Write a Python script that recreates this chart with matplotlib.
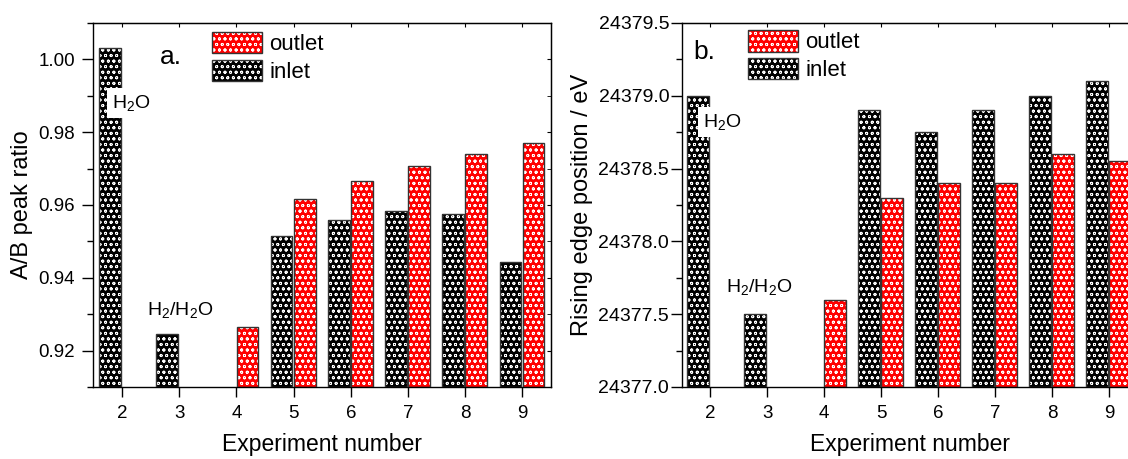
import matplotlib
matplotlib.use("Agg")  # headless
import matplotlib.pyplot as plt
import numpy as np
from matplotlib.patches import Patch
from matplotlib.ticker import MultipleLocator, FormatStrFormatter

plt.rcParams["font.family"] = ["Liberation Sans", "DejaVu Sans"]
plt.rcParams["mathtext.fontset"] = "custom"
plt.rcParams["mathtext.rm"] = "Liberation Sans"
plt.rcParams["mathtext.it"] = "Liberation Sans:italic"
plt.rcParams["hatch.linewidth"] = 0.6

# Experiment numbers and values (None = no bar)
experiments = [2, 3, 4, 5, 6, 7, 8, 9]
ratio_inlet = [1.0032, 0.9246, None, 0.9514, 0.9559, 0.9584, 0.9575, 0.9444]
ratio_outlet = [None, None, 0.9266, 0.9616, 0.9667, 0.9706, 0.9739, 0.9771]
edge_inlet = [24379.0, 24377.5, None, 24378.9, 24378.75, 24378.9, 24379.0, 24379.1]
edge_outlet = [None, None, 24377.6, 24378.3, 24378.4, 24378.4, 24378.6, 24378.55]

INLET_FACE, INLET_HATCH = "black", "ooo"
OUTLET_FACE, OUTLET_HATCH = "#ff0000", "ooo"
BAR_W = 0.38


def draw_bars(ax, vals, offset, face, hatch, base):
    xs = np.array([e for e, v in zip(experiments, vals) if v is not None], float)
    hs = [v - base for v in vals if v is not None]
    ax.bar(xs + offset, hs, width=BAR_W, bottom=base, align="edge",
           color=face, edgecolor="white", hatch=hatch, linewidth=0, zorder=2)
    ax.bar(xs + offset, hs, width=BAR_W, bottom=base, align="edge",
           fill=False, edgecolor="#333333", linewidth=1.0, zorder=3)


def style_axes(ax, ylim, major, minor, fmt, ylabel, ypad):
    ax.set_xlim(1.5, 9.5)
    ax.set_ylim(*ylim)
    ax.set_xticks(experiments)
    ax.yaxis.set_major_locator(MultipleLocator(major))
    ax.yaxis.set_minor_locator(MultipleLocator(minor))
    ax.yaxis.set_major_formatter(FormatStrFormatter(fmt))
    ax.tick_params(axis="x", direction="out", length=7, width=1, pad=6, labelsize=13.5)
    ax.tick_params(axis="y", which="major", direction="out", length=8, width=1,
                   pad=ypad, labelsize=13.5)
    ax.tick_params(axis="y", which="minor", direction="out", length=4, width=1)
    for s in ax.spines.values():
        s.set_linewidth(1.0)
    top = ax.secondary_xaxis("top")
    top.set_xticks(experiments)
    top.tick_params(direction="in", length=3, labeltop=False)
    right = ax.secondary_yaxis("right")
    right.yaxis.set_major_locator(MultipleLocator(major))
    right.yaxis.set_minor_locator(MultipleLocator(minor))
    right.tick_params(which="both", direction="in", length=3, labelright=False)
    ax.set_xlabel("Experiment number", fontsize=16.5, labelpad=8)
    ax.set_ylabel(ylabel, fontsize=17)


def legend(ax, anchor):
    h_out = (Patch(facecolor=OUTLET_FACE, edgecolor="white", hatch=OUTLET_HATCH, lw=0),
             Patch(fill=False, edgecolor="#333333", lw=1))
    h_in = (Patch(facecolor=INLET_FACE, edgecolor="white", hatch=INLET_HATCH, lw=0),
            Patch(fill=False, edgecolor="#333333", lw=1))
    ax.legend([h_out, h_in], ["outlet", "inlet"], loc="upper left",
              bbox_to_anchor=anchor, frameon=False, fontsize=16,
              handlelength=2.25, handleheight=1.1, labelspacing=0.2,
              handletextpad=0.35, borderpad=0, borderaxespad=0)


fig = plt.figure(figsize=(11.28, 4.59), dpi=100)
box = dict(boxstyle="square,pad=0.25", facecolor="white", edgecolor="none")

# panel a
ax1 = fig.add_axes([0.0827, 0.157, 0.4058, 0.793])
draw_bars(ax1, ratio_inlet, -0.40, INLET_FACE, INLET_HATCH, 0.91)
draw_bars(ax1, ratio_outlet, 0.005, OUTLET_FACE, OUTLET_HATCH, 0.91)
style_axes(ax1, (0.91, 1.01), 0.02, 0.01, "%.2f", "A/B peak ratio", 5)
legend(ax1, (0.259, 0.975))
ax1.text(0.146, 0.887, "a.", transform=ax1.transAxes, fontsize=19)
ax1.text(0.041, 0.766, r"H$_2$O", transform=ax1.transAxes, fontsize=14,
         bbox=box, zorder=5)
ax1.text(0.117, 0.198, r"H$_2$/H$_2$O", transform=ax1.transAxes, fontsize=14)

# panel b (right edge runs past the figure, as in the original)
ax2 = fig.add_axes([0.6043, 0.157, 0.4043, 0.793])
draw_bars(ax2, edge_inlet, -0.40, INLET_FACE, INLET_HATCH, 24377.0)
draw_bars(ax2, edge_outlet, 0.005, OUTLET_FACE, OUTLET_HATCH, 24377.0)
style_axes(ax2, (24377.0, 24379.5), 0.5, 0.25, "%.1f",
           "Rising edge position / eV", 1)
ax2.tick_params(axis="y", labelsize=14)
legend(ax2, (0.145, 0.98))
ax2.text(0.025, 0.901, "b.", transform=ax2.transAxes, fontsize=19)
ax2.text(0.047, 0.7145, r"H$_2$O", transform=ax2.transAxes, fontsize=14,
         bbox=box, zorder=5)
ax2.text(0.097, 0.262, r"H$_2$/H$_2$O", transform=ax2.transAxes, fontsize=14)

fig.savefig("out.png", dpi=100)
plt.close(fig)
